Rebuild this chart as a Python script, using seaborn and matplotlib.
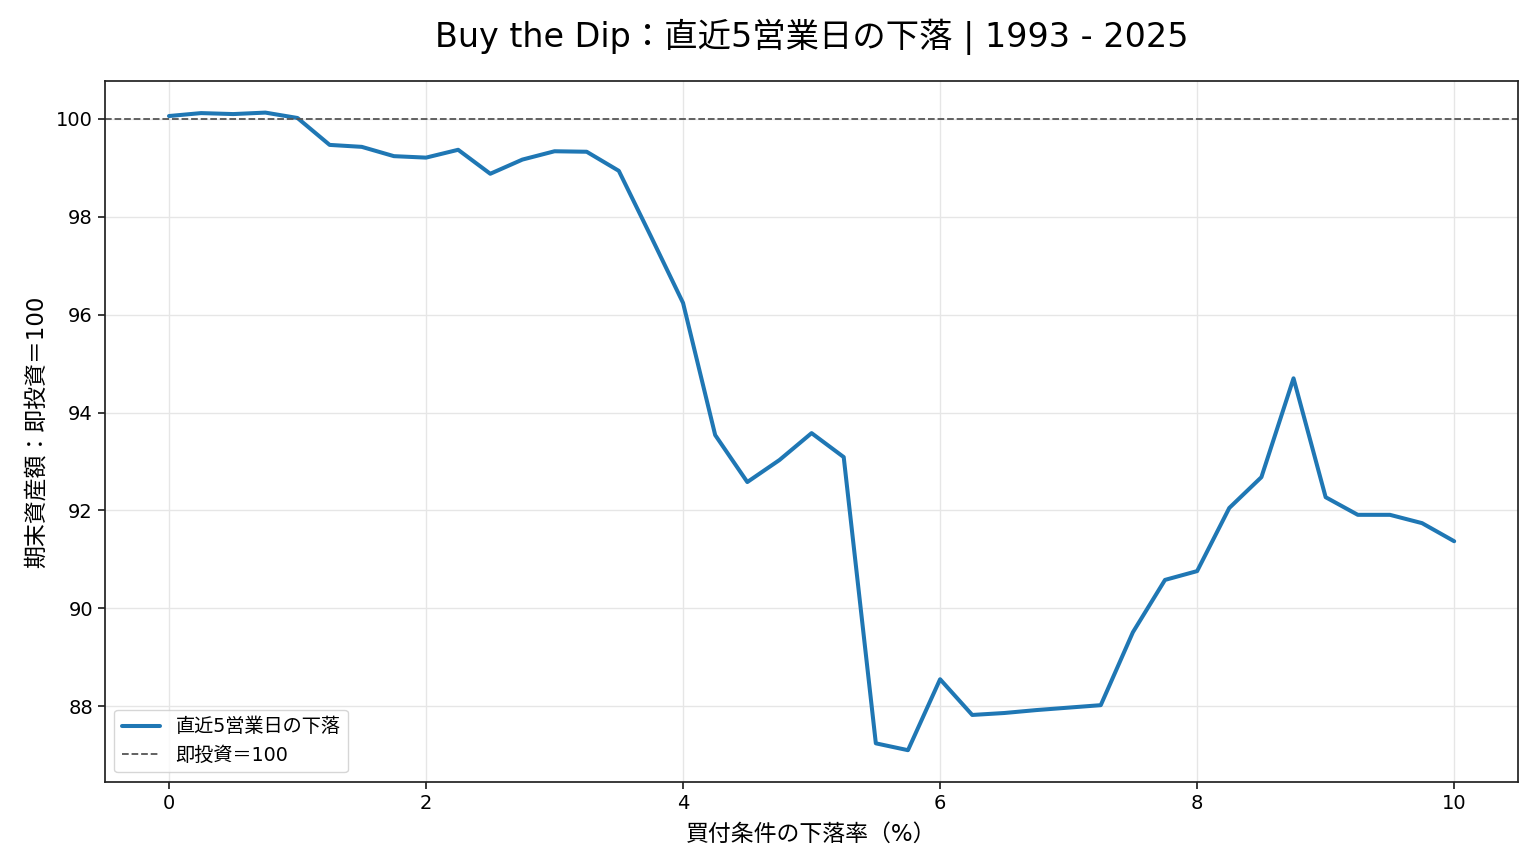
import numpy as np
import matplotlib
matplotlib.use("Agg")
import matplotlib.pyplot as plt
import seaborn as sns
import pandas as pd

# 買付条件の下落率（%）
DIP_PCT = [0.0, 0.25, 0.5, 0.75, 1.0, 1.25, 1.5, 1.75, 2.0, 2.25,
           2.5, 2.75, 3.0, 3.25, 3.5, 3.75, 4.0, 4.25, 4.5, 4.75,
           5.0, 5.25, 5.5, 5.75, 6.0, 6.25, 6.5, 6.75, 7.0, 7.25,
           7.5, 7.75, 8.0, 8.25, 8.5, 8.75, 9.0, 9.25, 9.5, 9.75, 10.0]

# 期末資産額（即投資=100）
FINAL_VALUE = [100.06, 100.12, 100.10, 100.13, 100.02, 99.47, 99.43, 99.24, 99.21, 99.37,
               98.88, 99.17, 99.34, 99.33, 98.94, 97.60, 96.24, 93.54, 92.58, 93.03,
               93.58, 93.09, 87.24, 87.10, 88.55, 87.82, 87.86, 87.92, 87.97, 88.02,
               89.51, 90.58, 90.76, 92.05, 92.68, 94.70, 92.27, 91.91, 91.91, 91.74, 91.37]

BASELINE = 100
SERIES_LABEL = "直近5営業日の下落"
BASE_LABEL = "即投資＝100"

df = pd.DataFrame({"dip": DIP_PCT, "value": FINAL_VALUE})

sns.set_theme(style="ticks")
plt.rcParams["font.family"] = ["DejaVu Sans", "Noto Sans CJK JP"]
plt.rcParams.update({
    "axes.edgecolor": "#222222",
    "text.color": "black",
    "axes.labelcolor": "black",
    "xtick.color": "#222222",
    "ytick.color": "#222222",
    "xtick.labelcolor": "black",
    "ytick.labelcolor": "black",
})

fig, ax = plt.subplots(figsize=(15.4, 8.68), dpi=100)

sns.lineplot(data=df, x="dip", y="value", color="#1f77b4", linewidth=2.9,
             label=SERIES_LABEL, ax=ax)
ax.axhline(BASELINE, color="#555555", linestyle="--", linewidth=1.3, label=BASE_LABEL)

ax.grid(True, color="#e6e6e6", linewidth=1)
ax.set_title("Buy the Dip：直近5営業日の下落 | 1993 - 2025", fontsize=24, pad=24)
ax.set_xlabel("買付条件の下落率（%）", fontsize=16.5, labelpad=7)
ax.set_ylabel("期末資産額：即投資＝100", fontsize=16.5, labelpad=6)
ax.tick_params(labelsize=14, length=5)
ax.legend(loc="lower left", fontsize=13.8, frameon=True)

fig.subplots_adjust(left=0.068, right=0.986, top=0.907, bottom=0.099)
fig.savefig("out.png", dpi=100)
